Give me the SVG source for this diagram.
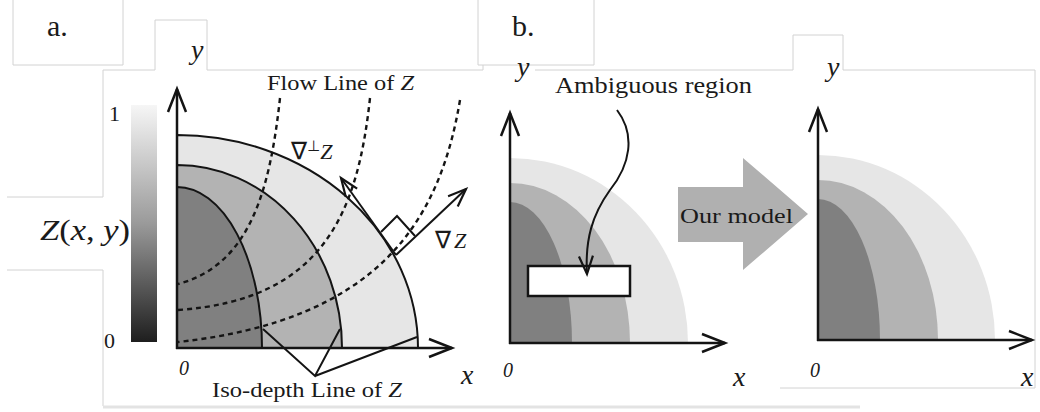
<svg xmlns="http://www.w3.org/2000/svg" width="1040" height="412" viewBox="0 0 1040 412">
<style>
.frame{fill:none;stroke:#d2d2d2;stroke-width:1}
.band{stroke:#e3e3e3;stroke-width:3}
.ax{fill:none;stroke:#141414;stroke-width:2.5}
.edge{stroke:#141414;stroke-width:2}
.dash{fill:none;stroke:#141414;stroke-width:2.4;stroke-dasharray:5 4}
.l1{fill:#e6e6e6}.l2{fill:#b3b3b3}.l3{fill:#808080}
.serif{font-family:"Liberation Serif","Times New Roman",serif;fill:#1a1a1a}
.it{font-style:italic}
.ln{fill:none;stroke:#141414;stroke-width:2}
</style>
<defs>
<linearGradient id="cb" x1="0" y1="0" x2="0" y2="1">
<stop offset="0" stop-color="#f6f6f6"/>
<stop offset="0.5" stop-color="#9a9a9a"/>
<stop offset="1" stop-color="#1e1e1e"/>
</linearGradient>
<marker id="ah" markerUnits="userSpaceOnUse" markerWidth="30" markerHeight="24" viewBox="-26 -12 30 24" refX="0" refY="0" orient="auto" overflow="visible">
<path d="M-23,-9 L0,0 L-23,9" fill="none" stroke="#141414" stroke-width="2.5"/>
</marker>
<marker id="ahs" markerUnits="userSpaceOnUse" markerWidth="24" markerHeight="20" viewBox="-20 -10 24 20" refX="0" refY="0" orient="auto" overflow="visible">
<path d="M-18,-7 L0,0 L-18,7" fill="none" stroke="#141414" stroke-width="2.2"/>
</marker>
</defs>

<g id="frames">
<path class="frame" d="M13,-1 V65 H123 V-1"/>
<path class="frame" d="M103,197 V70 H155 V20 H207 V70 H483 V65"/>
<path class="frame" d="M7,197 H103 M7,270 H103 M103,270 V406"/>
<path class="frame" d="M478,-1 V65 H594 V-1"/>
<path class="frame" d="M535,70 H793 V35 H843 V70 H1035 V388 H780"/>
<line class="band" x1="103" y1="407" x2="860" y2="407"/>
<text class="serif" x="47" y="36" font-size="30">a.</text>
<text class="serif" x="512" y="36" font-size="30">b.</text>
</g>

<g id="panel-a">
<rect x="131" y="105" width="26" height="237" fill="url(#cb)"/>
<text class="serif" x="109" y="121" font-size="22">1</text>
<text class="serif" x="104" y="348" font-size="22">0</text>
<text class="serif" x="40" y="240" font-size="29" textLength="90" lengthAdjust="spacingAndGlyphs"><tspan class="it">Z</tspan>(<tspan class="it">x</tspan>, <tspan class="it">y</tspan>)</text>
<path class="l1 edge" d="M177,348 V135 A241,213 0 0 1 418,348 Z"/>
<path class="l2 edge" d="M177,348 V165 A165,183 0 0 1 342,348 Z"/>
<path class="l3 edge" d="M177,348 V187 A85,161 0 0 1 262,348 Z"/>
<path class="dash" d="M280,98 C270,190 250,265 178,284"/>
<path class="dash" d="M370,98 C358,210 325,300 178,310"/>
<path class="dash" d="M460,100 C440,220 380,320 178,342"/>
<line class="ax" x1="177" y1="349" x2="177" y2="89" marker-end="url(#ah)"/>
<line class="ax" x1="176" y1="348" x2="452" y2="348" marker-end="url(#ah)"/>
<text class="serif it" x="191" y="59" font-size="28">y</text>
<text class="serif it" x="461" y="384" font-size="28">x</text>
<text class="serif it" x="179" y="375" font-size="20">0</text>
<text class="serif" x="267" y="90" font-size="22" textLength="147" lengthAdjust="spacingAndGlyphs">Flow  Line of <tspan class="it">Z</tspan></text>
<text class="serif" x="212" y="397" font-size="21" textLength="190" lengthAdjust="spacingAndGlyphs">Iso-depth  Line of <tspan class="it">Z</tspan></text>
<text x="291" y="159" font-size="24" fill="#1a1a1a"><tspan font-family="DejaVu Sans">∇</tspan><tspan font-family="DejaVu Sans" font-size="15" dy="-8">⊥</tspan><tspan class="serif it" font-size="22" dy="8">Z</tspan></text>
<text x="435" y="248" font-size="24" fill="#1a1a1a"><tspan font-family="DejaVu Sans">∇</tspan><tspan class="serif it" font-size="22" dx="3">Z</tspan></text>
<path class="ln" d="M381,232 L397,216 L415,236"/>
</g>

<g id="panel-b-left">
<path class="l1" d="M510,343 V158 A178,185 0 0 1 688,343 Z"/>
<path class="l2" d="M510,343 V183 A120,160 0 0 1 630,343 Z"/>
<path class="l3" d="M510,343 V202 A62,141 0 0 1 572,343 Z"/>
<rect x="528" y="266" width="102" height="30" fill="#fff" stroke="#141414" stroke-width="2.5"/>
<line class="ax" x1="510" y1="344" x2="510" y2="113" marker-end="url(#ah)"/>
<line class="ax" x1="509" y1="343" x2="725" y2="343" marker-end="url(#ah)"/>
<text class="serif it" x="517" y="76" font-size="28">y</text>
<text class="serif it" x="733" y="386" font-size="28">x</text>
<text class="serif it" x="503" y="377" font-size="20">0</text>
<text class="serif" x="555" y="93" font-size="23" textLength="197" lengthAdjust="spacingAndGlyphs">Ambiguous region</text>
</g>

<g id="model-arrow">
<path d="M678,187 H743 V158 L808,214 L743,270 V242 H678 Z" fill="#b0b0b0"/>
<text class="serif" x="680" y="223" font-size="22" textLength="113" lengthAdjust="spacingAndGlyphs">Our model</text>
</g>

<g id="panel-b-right">
<path class="l1" d="M818,340 V155 A177,185 0 0 1 995,340 Z"/>
<path class="l2" d="M818,340 V180 A120,160 0 0 1 938,340 Z"/>
<path class="l3" d="M818,340 V199 A62,141 0 0 1 880,340 Z"/>
<line class="ax" x1="818" y1="341" x2="818" y2="109" marker-end="url(#ah)"/>
<line class="ax" x1="817" y1="340" x2="1032" y2="340" marker-end="url(#ah)"/>
<text class="serif it" x="827" y="76" font-size="28">y</text>
<text class="serif it" x="1021" y="386" font-size="28">x</text>
<text class="serif it" x="810" y="377" font-size="20">0</text>
</g>

<g id="connectors">
<line class="ln" x1="396" y1="255" x2="341" y2="178" marker-end="url(#ahs)"/>
<line class="ln" x1="396" y1="255" x2="466" y2="189" marker-end="url(#ahs)"/>
<path class="ln" d="M263,329 L315,376 L340,329 M315,376 L417,337"/>
<path class="ln" d="M617,110 C636,135 630,165 610,190 C592,215 585,240 587,274" marker-end="url(#ahs)"/>
</g>
</svg>
